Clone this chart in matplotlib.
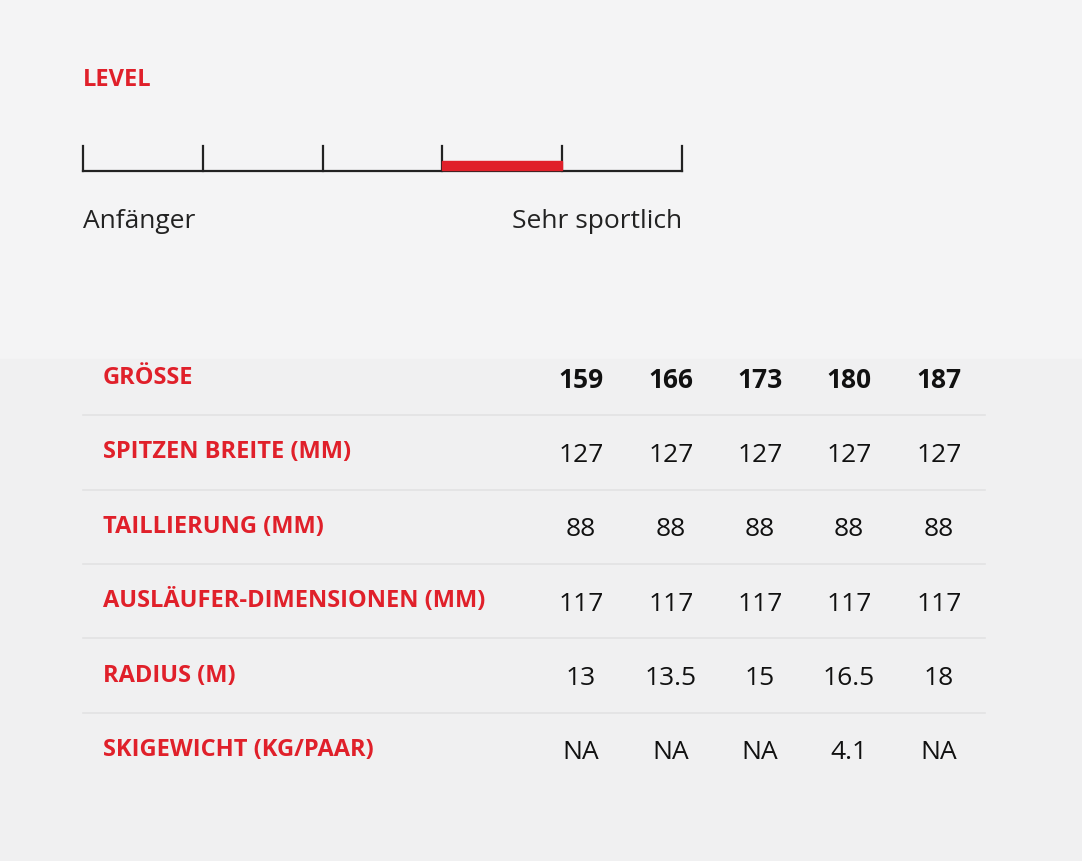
import matplotlib
matplotlib.use("Agg")
import matplotlib.pyplot as plt
from matplotlib.patches import Rectangle

title = "LEVEL"
level_labels = ["Anfänger", "Sehr sportlich"]
level_segments = 5
level_selected = 4  # 1-based segment

sizes = ["159", "166", "173", "180", "187"]
row_labels = ["GRÖSSE", "SPITZEN BREITE (MM)", "TAILLIERUNG (MM)",
              "AUSLÄUFER-DIMENSIONEN (MM)", "RADIUS (M)", "SKIGEWICHT (KG/PAAR)"]
spitzen = ["127", "127", "127", "127", "127"]
taille = ["88", "88", "88", "88", "88"]
auslaeufer = ["117", "117", "117", "117", "117"]
radius = ["13", "13.5", "15", "16.5", "18"]
gewicht = ["NA", "NA", "NA", "4.1", "NA"]

RED = "#e0202a"
FONT = "Open Sans"
W, H = 1082, 862
fig = plt.figure(figsize=(W/100, H/100), dpi=100)
fig.patch.set_facecolor("#f4f4f5")
ax = fig.add_axes([0, 0, 1, 1])
ax.set_xlim(0, W); ax.set_ylim(H, 0); ax.axis("off")
ax.add_patch(Rectangle((0, 360), W, H-360, color="#f0f0f1", zorder=0))

ax.text(83, 80, title, color=RED, fontsize=17, fontweight="bold", family=FONT, va="center")

x0, x1 = 83, 682
seg = (x1 - x0) / level_segments
ax.plot([x0, x1], [172, 172], color="#222", lw=1.6)
for i in range(level_segments + 1):
    ax.plot([x0 + i*seg]*2, [147, 172], color="#222", lw=1.6)
ax.add_patch(Rectangle((x0 + (level_selected-1)*seg, 162), seg, 9, color=RED, zorder=3))
ax.text(x0, 222, level_labels[0], fontsize=19, family=FONT, color="#222", va="center", ha="left")
ax.text(x1, 222, level_labels[1], fontsize=19, family=FONT, color="#222", va="center", ha="right")

rows = [sizes, spitzen, taille, auslaeufer, radius, gewicht]
col_x = [581, 671, 760, 849, 939]
y0, dy = 379, 74.4
for r, (lab, vals) in enumerate(zip(row_labels, rows)):
    y = y0 + r*dy
    ax.text(103, y - 1, lab, color=RED, fontsize=17, fontweight="bold", family=FONT, va="center")
    for cx, v in zip(col_x, vals):
        ax.text(cx, y + 2, v, fontsize=19, family=FONT, color="#111", ha="center", va="center",
                fontweight="bold" if r == 0 else "normal")
    if r < len(rows) - 1:
        ax.plot([83, 985], [y + dy/2, y + dy/2], color="#e2e2e3", lw=1.2)

fig.savefig("out.png", dpi=100, facecolor=fig.get_facecolor())
